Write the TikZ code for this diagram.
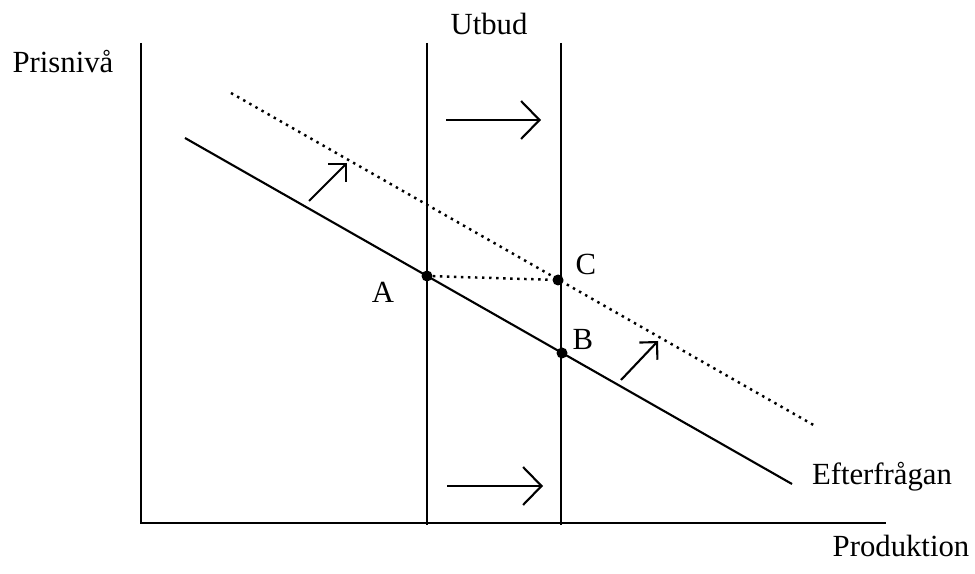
\documentclass[tikz,border=0pt]{standalone}
\usepackage{fontspec}
\setmainfont{Liberation Serif}
\usetikzlibrary{arrows.meta}
\tikzset{
  axisline/.style={line width=1.2pt},
  curve/.style={line width=1.2pt},
  shiftcurve/.style={line width=1.4pt,dash pattern=on 1.4pt off 2.6pt},
  pointdot/.style={circle,fill=black,inner sep=0pt,minimum size=0.22cm},
  shiftarr/.style={-{Straight Barb[length=0.37cm,width=0.76cm]},line width=1.2pt},
  tiltarr/.style={-{Straight Barb[length=0.25cm,width=0.5cm]},line width=1.2pt},
  lab/.style={font=\fontsize{17.5}{20}\selectfont,anchor=base,inner sep=0pt}
}
\begin{document}
\begin{tikzpicture}[x=0.02cm,y=-0.02cm]
    \useasboundingbox (0,0) rectangle (975,574);
    % axes
    \coordinate (ytop) at (141,43);
    \coordinate (orig) at (141,523);
    \coordinate (xend) at (886,523);
    \draw[axisline] (ytop) -- (orig) -- (xend);
    % supply
    \coordinate (s1top) at (427,43);
    \coordinate (s1bot) at (427,525);
    \coordinate (s2top) at (561,43);
    \coordinate (s2bot) at (561,525);
    \draw[curve] (s1top) -- (s1bot);
    \draw[curve] (s2top) -- (s2bot);
    % demand, old and new
    \coordinate (d1) at (185,138);
    \coordinate (d2) at (792,484);
    \coordinate (e1) at (231,93);
    \coordinate (e2) at (817,427);
    \draw[curve] (d1) -- (d2);
    \draw[shiftcurve] (e1) -- (e2);
    % points
    \node[pointdot] (A) at (427,276) {};
    \node[pointdot] (B) at (562,353) {};
    \node[pointdot] (C) at (558,280) {};
    \draw[shiftcurve] (A) -- (C);
    % shifts
    \coordinate (u1) at (446,120);
    \coordinate (u2) at (541,120);
    \coordinate (u3) at (447,486);
    \coordinate (u4) at (543,486);
    \draw[shiftarr] (u1) -- (u2);
    \draw[shiftarr] (u3) -- (u4);
    \coordinate (t1) at (309,201);
    \coordinate (t2) at (347,163);
    \coordinate (t3) at (621,380);
    \coordinate (t4) at (658,341);
    \draw[tiltarr] (t1) -- (t2);
    \draw[tiltarr] (t3) -- (t4);
    % labels
    \node[lab] (ylab) at (63,73) {Prisnivå};
    \node[lab] (slab) at (489,35) {Utbud};
    \node[lab] (dlab) at (882,485) {Efterfrågan};
    \node[lab] (xlab) at (901,557) {Produktion};
    \node[lab] (Alab) at (383,303) {A};
    \node[lab] (Blab) at (583,350) {B};
    \node[lab] (Clab) at (586,275) {C};
\end{tikzpicture}
\end{document}
